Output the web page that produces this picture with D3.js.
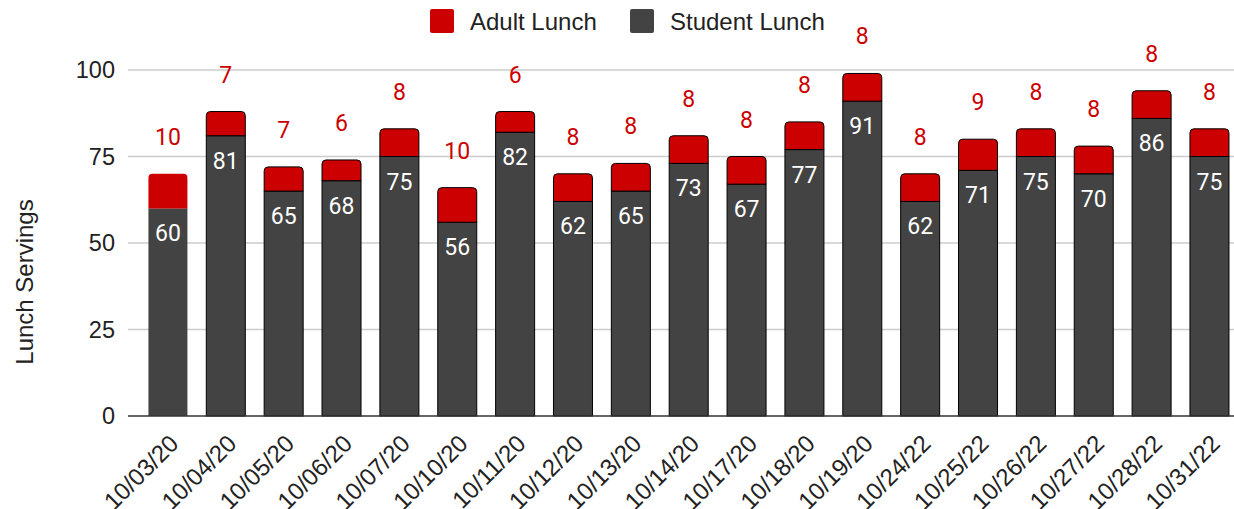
<!DOCTYPE html>
<html>
<head>
<meta charset="utf-8">
<script src="https://cdn.jsdelivr.net/npm/d3@7"></script>
<style>
  html, body { margin: 0; padding: 0; background: #fff; }
  svg { display: block; }
</style>
</head>
<body>
<svg id="chart" width="1234" height="509"></svg>
<script>
// Lunch servings per day, stacked: student below, adult on top
const dates = ["10/03/20","10/04/20","10/05/20","10/06/20","10/07/20","10/10/20","10/11/20","10/12/20","10/13/20","10/14/20","10/17/20","10/18/20","10/19/20","10/24/22","10/25/22","10/26/22","10/27/22","10/28/22","10/31/22"];
const studentLunch = [60,81,65,68,75,56,82,62,65,73,67,77,91,62,71,75,70,86,75];
const adultLunch   = [10,7,7,6,8,10,6,8,8,8,8,8,8,8,9,8,8,8,8];
const yTicks = [0,25,50,75,100];
const seriesNames = ["Adult Lunch","Student Lunch"];

const RED = "#cc0000", DARK = "#434343";
const AXIS_FONT = "'Liberation Sans', Arial, sans-serif";
const LABEL_FONT = "Roboto, 'Liberation Sans', sans-serif";

const svg = d3.select("#chart");
const plotLeft = 128, plotRight = 1234;

const x = d3.scaleBand().domain(dates).range([139, 1238.4]).paddingInner(0.326).paddingOuter(0.163);
const y = d3.scaleLinear().domain([0, 100]).range([416, 70]);

// gridlines
svg.append("g").selectAll("line").data(yTicks.filter(t => t > 0)).join("line")
  .attr("x1", plotLeft).attr("x2", plotRight)
  .attr("y1", d => y(d)).attr("y2", d => y(d))
  .attr("stroke", "#cccccc").attr("stroke-width", 1.3);

// y axis tick labels
const yAxis = svg.append("g").attr("transform", `translate(${plotLeft},0)`)
  .call(d3.axisLeft(y).tickValues(yTicks).tickSize(0).tickPadding(13));
yAxis.select(".domain").remove();
yAxis.selectAll("text").attr("font-family", AXIS_FONT).attr("font-size", 23.5).attr("fill", "#222");

// axis title
svg.append("text")
  .attr("transform", "translate(33,282) rotate(-90)")
  .attr("text-anchor", "middle")
  .attr("font-family", AXIS_FONT).attr("font-size", 24).attr("fill", "#222")
  .text("Lunch Servings");

const rows = dates.map((d, i) => ({ date: d, student: studentLunch[i], adult: adultLunch[i], i }));

// path for a rect with rounded top corners
function topRounded(x0, y0, w, h, r) {
  r = Math.min(r, h);
  return `M${x0},${y0 + h} L${x0},${y0 + r} Q${x0},${y0} ${x0 + r},${y0} L${x0 + w - r},${y0} Q${x0 + w},${y0} ${x0 + w},${y0 + r} L${x0 + w},${y0 + h} Z`;
}

const bars = svg.append("g");
// student segment
bars.selectAll("rect.student").data(rows).join("rect")
  .attr("class", "student")
  .attr("x", d => x(d.date)).attr("width", x.bandwidth())
  .attr("y", d => y(d.student)).attr("height", d => y(0) - y(d.student))
  .attr("fill", DARK)
  .attr("stroke", d => d.i === 0 ? "none" : "#000").attr("stroke-width", 1);
// adult segment
bars.selectAll("path.adult").data(rows).join("path")
  .attr("class", "adult")
  .attr("d", d => topRounded(x(d.date), y(d.student + d.adult), x.bandwidth(), y(d.student) - y(d.student + d.adult), 4))
  .attr("fill", RED)
  .attr("stroke", d => d.i === 0 ? "none" : "#000").attr("stroke-width", 1);

// zero baseline
svg.append("line")
  .attr("x1", plotLeft).attr("x2", plotRight)
  .attr("y1", y(0)).attr("y2", y(0))
  .attr("stroke", "#333").attr("stroke-width", 1.5);

// value labels
svg.append("g").selectAll("text").data(rows).join("text")
  .attr("x", d => x(d.date) + x.bandwidth() / 2)
  .attr("y", d => y(d.student) + 33)
  .attr("text-anchor", "middle")
  .attr("font-family", LABEL_FONT).attr("font-size", 23).attr("fill", "#fff")
  .text(d => d.student);
svg.append("g").selectAll("text").data(rows).join("text")
  .attr("x", d => x(d.date) + x.bandwidth() / 2)
  .attr("y", d => y(d.student + d.adult) - 29)
  .attr("text-anchor", "middle")
  .attr("font-family", LABEL_FONT).attr("font-size", 23).attr("fill", RED)
  .text(d => d.adult);

// x axis labels, rotated
svg.append("g").selectAll("text").data(dates).join("text")
  .attr("transform", d => `translate(${x(d) + x.bandwidth() / 2},${433}) rotate(-45)`)
  .attr("text-anchor", "end")
  .attr("dy", "0.71em")
  .attr("font-family", AXIS_FONT).attr("font-size", 24).attr("fill", "#222")
  .text(d => d);

// legend
const legend = svg.append("g");
const legendItems = [
  { name: seriesNames[0], color: RED, sx: 430, tx: 470 },
  { name: seriesNames[1], color: DARK, sx: 630, tx: 670 }
];
legend.selectAll("rect").data(legendItems).join("rect")
  .attr("x", d => d.sx).attr("y", 9).attr("width", 24).attr("height", 24)
  .attr("rx", 2).attr("fill", d => d.color);
legend.selectAll("text").data(legendItems).join("text")
  .attr("x", d => d.tx).attr("y", 29.5)
  .attr("font-family", AXIS_FONT).attr("font-size", 24).attr("fill", "#222")
  .text(d => d.name);
</script>
</body>
</html>
